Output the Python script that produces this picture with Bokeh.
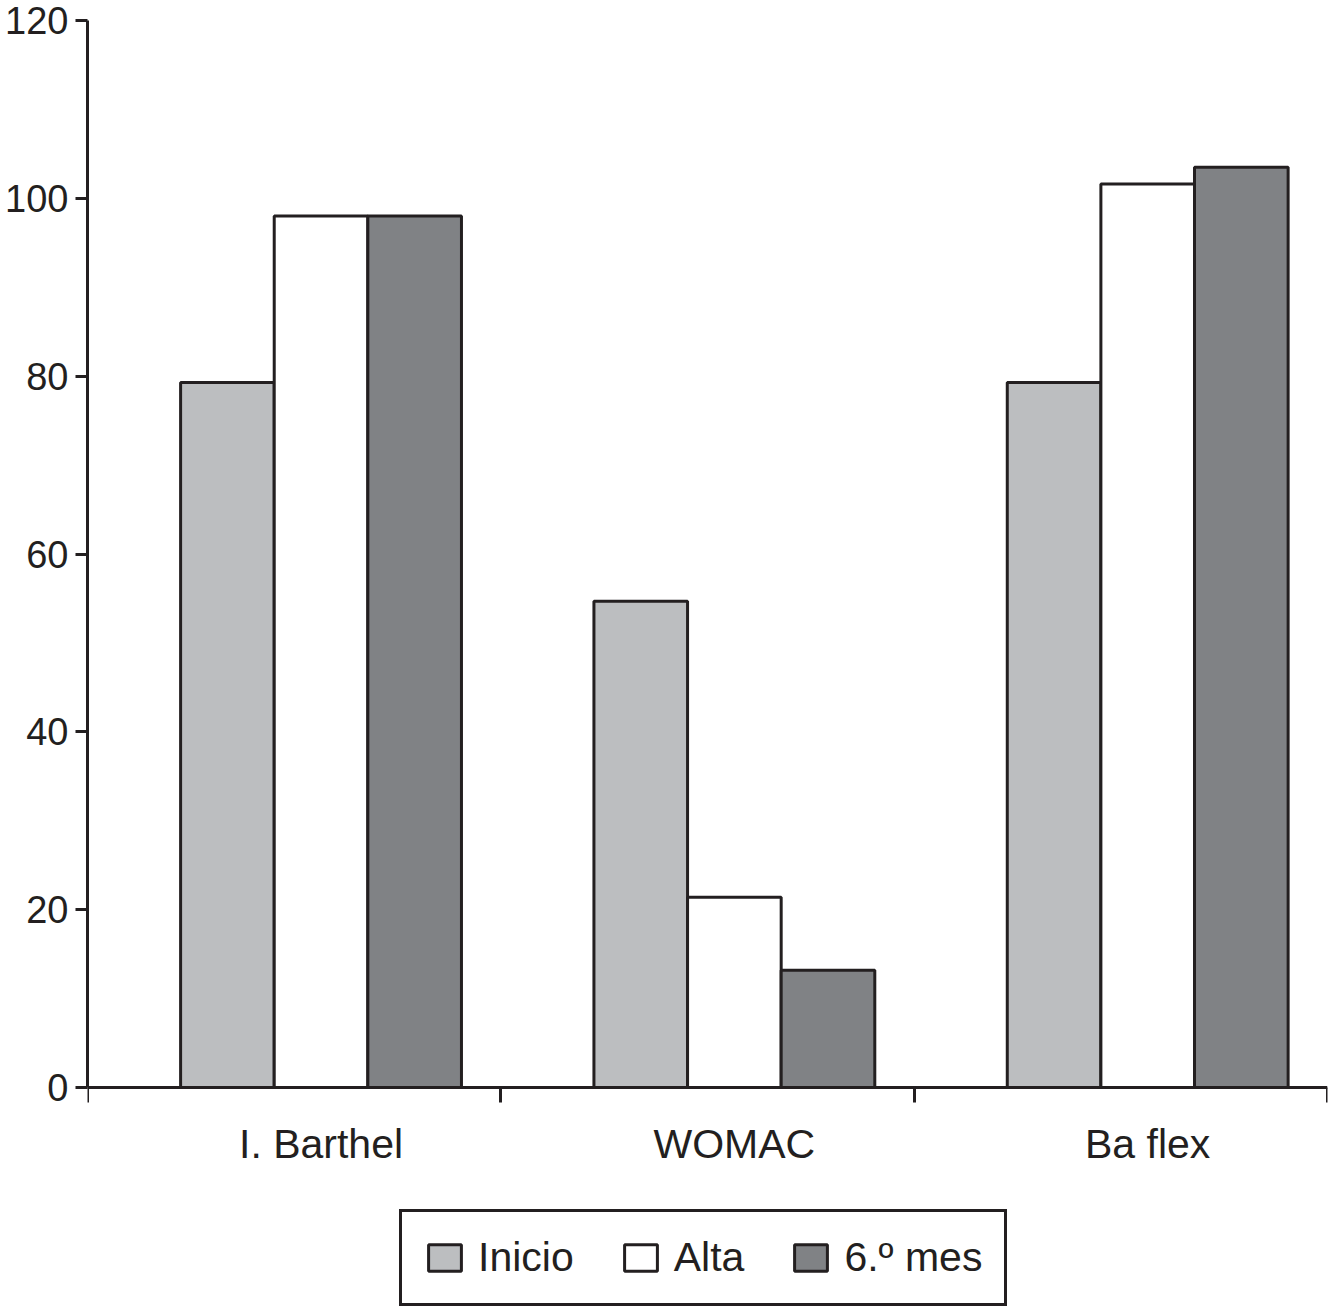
from bokeh.plotting import figure
from bokeh.models import Range1d, FixedTicker, Legend
from bokeh.embed import file_html
from bokeh.resources import INLINE

categories = ["I. Barthel", "WOMAC", "Ba flex"]
series = ["Inicio", "Alta", "6.º mes"]
inicio = [79.3, 54.7, 79.3]
alta = [98, 21.4, 101.6]
mes6 = [98, 13.2, 103.5]
y_ticks = [0, 20, 40, 60, 80, 100, 120]

colors = ["#bcbec0", "#ffffff", "#808285"]
ink = "#231f20"
font = "Liberation Sans"

group_offset = 0.565
bar_w = 0.2265

W, H = 1330, 1308
top_px, zero_px = 20, 1087          # pixel rows of y=120 and y=0
px_per_unit = (zero_px - top_px) / 120.0
y_start = -(H - zero_px) / px_per_unit   # extend frame below 0 for axis labels & legend

p = figure(width=W, height=H, output_backend="svg", toolbar_location=None,
           x_range=Range1d(0, 3), y_range=Range1d(y_start, 120),
           min_border_left=87, min_border_right=3, min_border_top=top_px, min_border_bottom=0)
p.outline_line_color = None
p.xgrid.visible = False
p.ygrid.visible = False

items = []
for j, (name, vals) in enumerate(zip(series, [inicio, alta, mes6])):
    xs = [i + group_offset + (j - 1) * bar_w for i in range(len(categories))]
    r = p.vbar(x=xs, top=vals, bottom=0, width=bar_w, fill_color=colors[j],
               line_color=ink, line_width=3)
    items.append((name, [r]))

centers = [i + group_offset for i in range(len(categories))]
xa = p.xaxis[0]
xa.fixed_location = 0
xa.ticker = FixedTicker(ticks=centers, minor_ticks=list(range(len(categories) + 1)))
xa.major_label_overrides = {c: n for c, n in zip(centers, categories)}
xa.major_tick_out = 0
xa.major_tick_in = 0
xa.minor_tick_out = 15
xa.minor_tick_in = 0
xa.minor_tick_line_width = 3
xa.minor_tick_line_color = ink
xa.axis_line_width = 3
xa.axis_line_color = ink
xa.major_label_text_font = font
xa.major_label_text_font_size = "41px"
xa.major_label_text_color = ink
xa.major_label_standoff = 18

ya = p.yaxis[0]
ya.bounds = (0, 120)
ya.ticker = FixedTicker(ticks=y_ticks)
ya.major_tick_out = 12
ya.major_tick_in = 0
ya.major_tick_line_width = 3
ya.major_tick_line_color = ink
ya.minor_tick_line_color = None
ya.axis_line_width = 3
ya.axis_line_color = ink
ya.major_label_text_font = font
ya.major_label_text_font_size = "38px"
ya.major_label_text_color = ink
ya.major_label_standoff = 7

legend = Legend(items=items, orientation="horizontal", location=(312, 2))
legend.glyph_width = 41
legend.glyph_height = 33
legend.label_text_font = font
legend.label_text_font_size = "41px"
legend.label_text_color = ink
legend.label_standoff = 13
legend.spacing = 46
legend.padding = 22
legend.margin = 0
legend.border_line_color = ink
legend.border_line_width = 3
legend.border_line_alpha = 1.0
legend.background_fill_color = "white"
legend.background_fill_alpha = 1.0
p.add_layout(legend, "center")

open("out.html", "w").write(file_html(p, INLINE))
